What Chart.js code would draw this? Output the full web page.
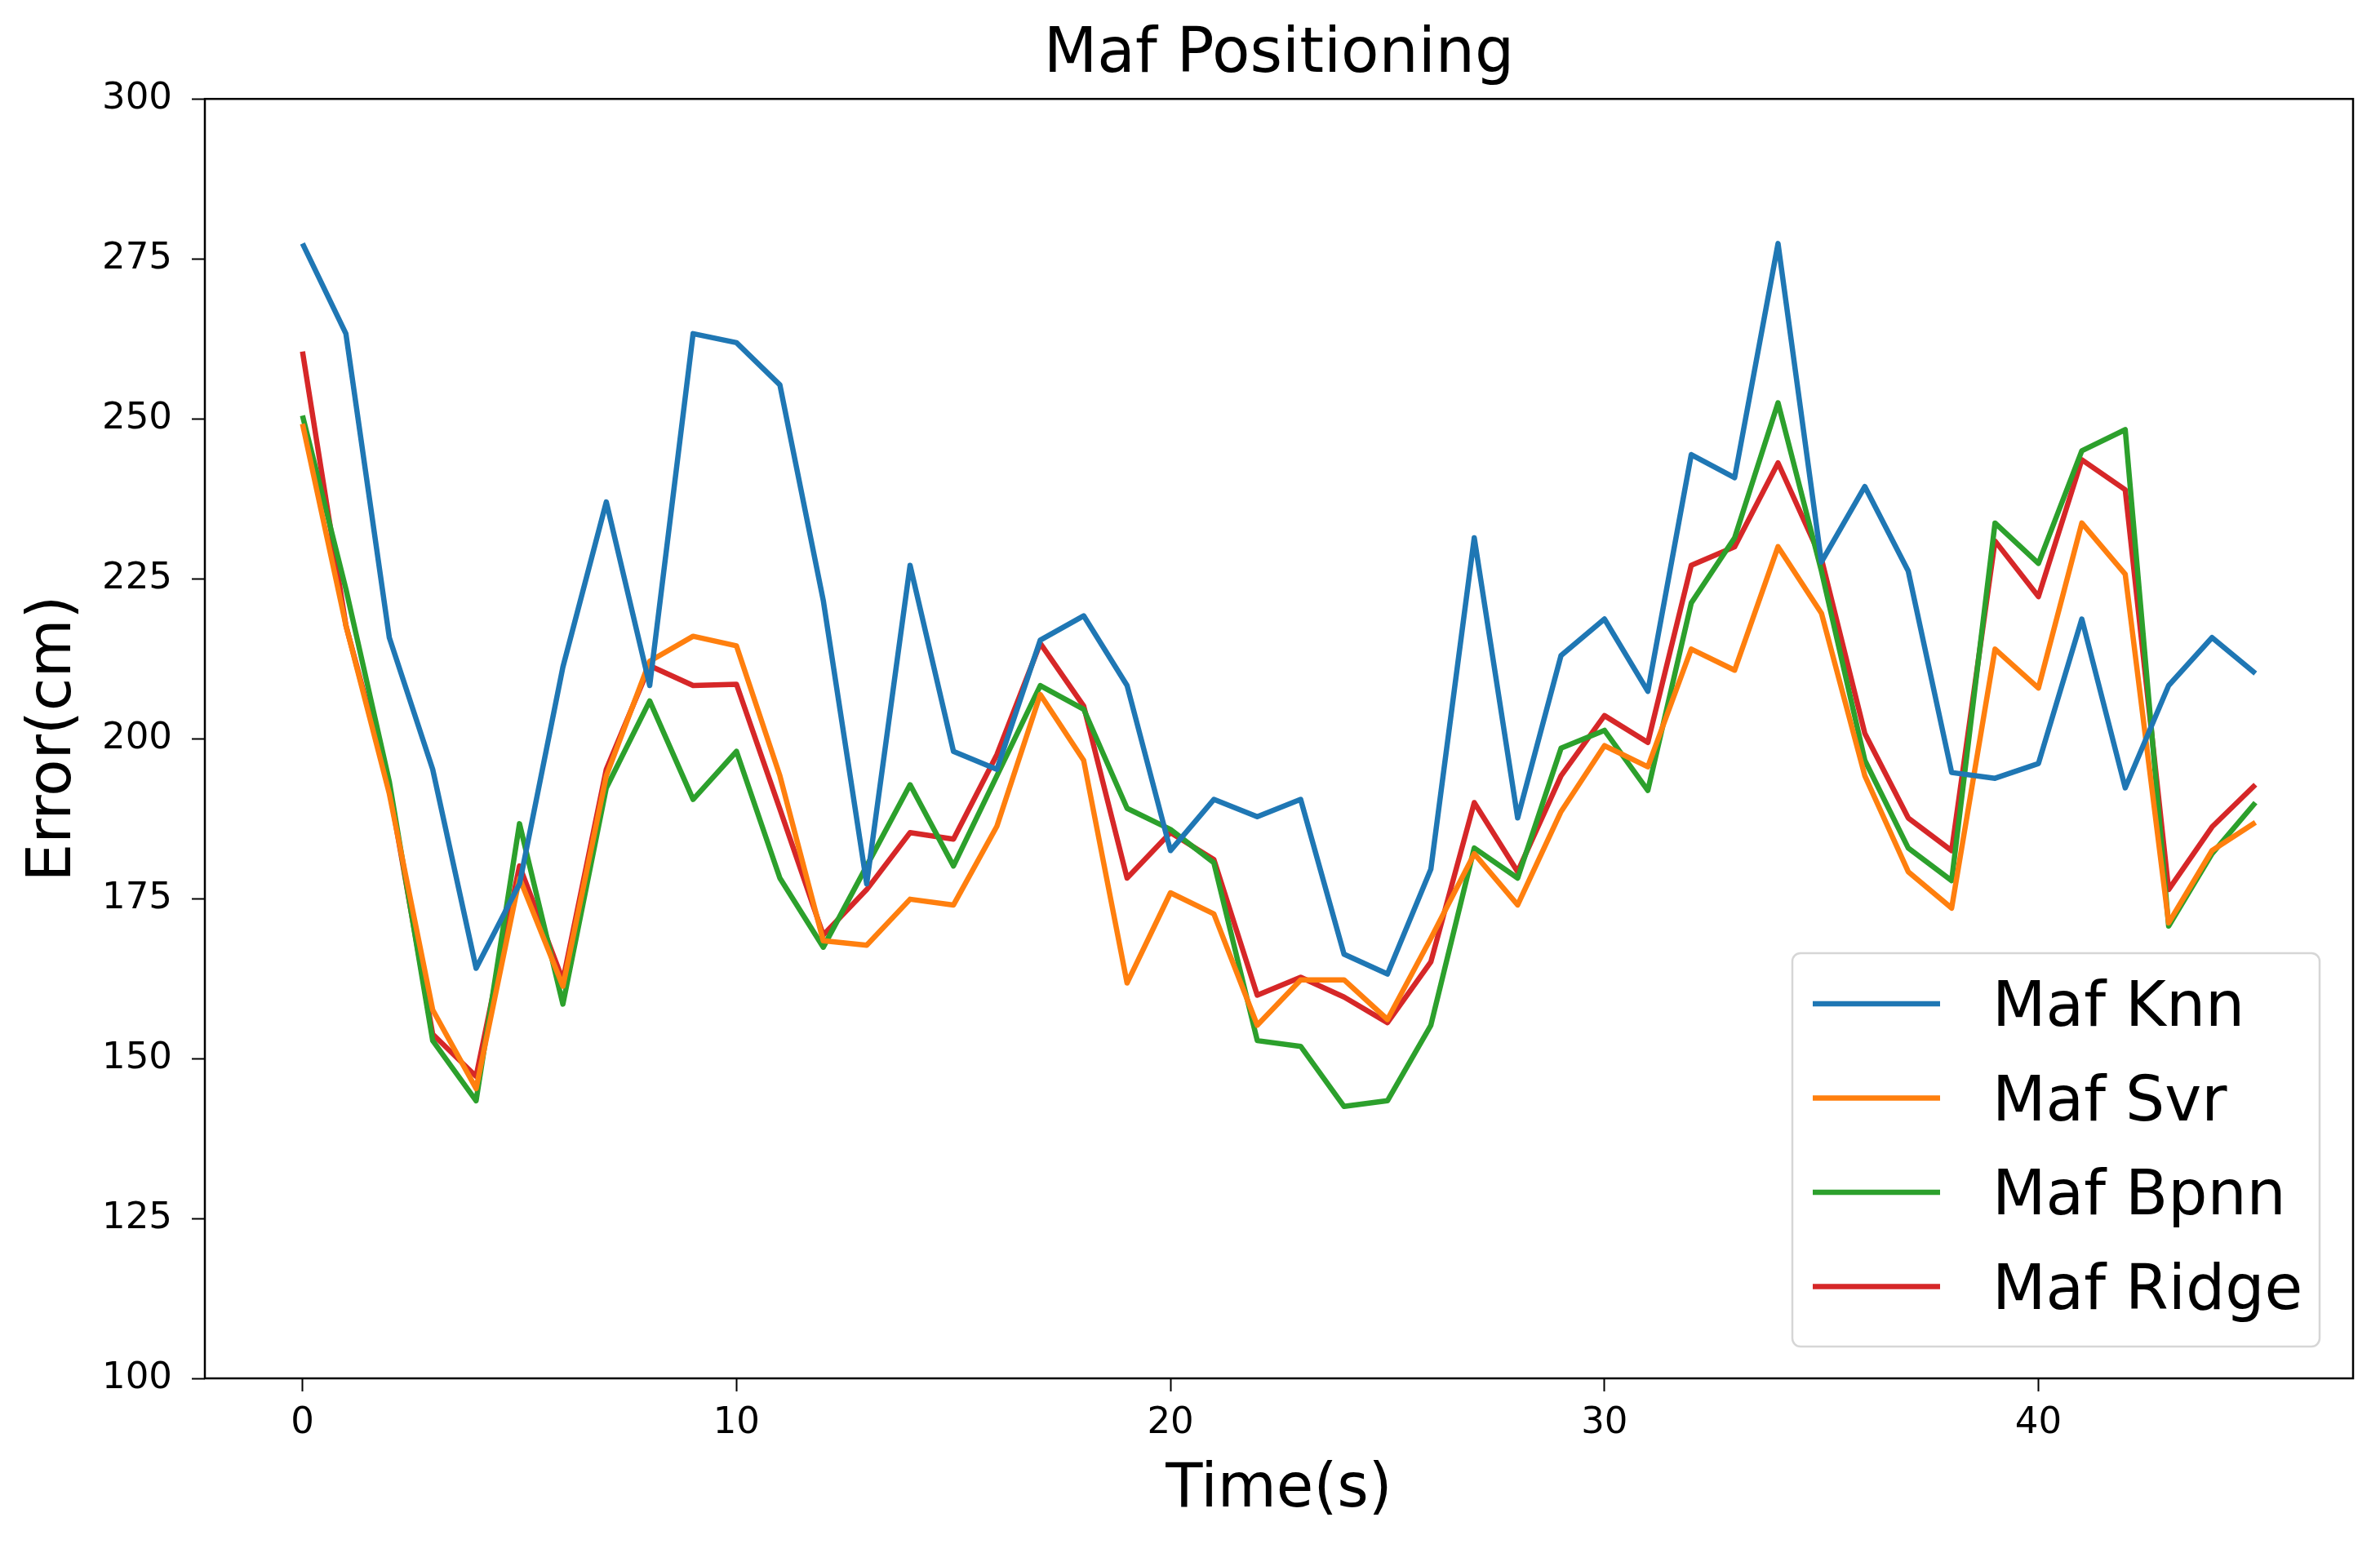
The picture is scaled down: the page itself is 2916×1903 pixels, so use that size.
<!DOCTYPE html>
<html>
<head>
<meta charset="utf-8">
<title>Maf Positioning</title>
<script src="https://cdn.jsdelivr.net/npm/chart.js@4.4.1/dist/chart.umd.min.js"></script>
<style>
    html, body { margin: 0; padding: 0; background: #fff; overflow: hidden; }
    #chart { display: block; }
</style>
</head>
<body>
<canvas id="chart" width="2916" height="1903"></canvas>
<script>
// 时间轴 (s)
const times = [0, 1, 2, 3, 4, 5, 6, 7, 8, 9, 10, 11, 12, 13, 14, 15, 16, 17, 18, 19, 20, 21, 22,
    23, 24, 25, 26, 27, 28, 29, 30, 31, 32, 33, 34, 35, 36, 37, 38, 39, 40, 41, 42, 43, 44, 45];

// 各算法定位误差 (cm)
const mafKnn = [277.4, 263.3, 215.8, 195.2, 164.1, 177.3, 211.2, 237.0, 208.3, 263.3, 261.9, 255.3,
    221.6, 177.3, 227.1, 198.0, 195.2, 215.4, 219.2, 208.3, 182.5, 190.5, 187.8, 190.5, 166.3, 163.2,
    179.6, 231.4, 187.6, 213.0, 218.7, 207.4, 244.4, 240.8, 277.4, 227.6, 239.4, 226.2, 194.7, 193.8,
    196.1, 218.7, 192.3, 208.3, 215.8, 210.2];
const mafSvr = [249.2, 217.7, 191.4, 157.6, 145.3, 178.2, 161.3, 194.2, 212.1, 216.0, 214.5, 194.2,
    168.4, 167.7, 174.9, 174.0, 186.3, 206.9, 196.6, 161.8, 175.9, 172.6, 155.2, 162.3, 162.3, 156.1,
    168.8, 182.0, 174.0, 188.6, 198.9, 195.6, 214.0, 210.7, 230.0, 219.6, 194.2, 179.2, 173.5, 214.0,
    207.9, 233.7, 225.7, 171.2, 182.5, 186.9];
const mafBpnn = [250.5, 223.4, 193.3, 152.8, 143.4, 186.7, 158.5, 192.3, 205.9, 190.5, 198.0, 178.2,
    167.4, 180.1, 192.8, 180.1, 194.2, 208.3, 204.6, 189.1, 185.8, 180.6, 152.8, 151.9, 142.5, 143.4,
    155.2, 182.9, 178.2, 198.5, 201.3, 191.9, 221.2, 231.4, 252.5, 226.2, 196.6, 182.9, 177.8, 233.7,
    227.4, 245.0, 248.3, 170.7, 182.0, 190.0];
const mafRidge = [260.5, 217.7, 192.3, 153.8, 147.2, 180.1, 162.2, 195.2, 211.4, 208.3, 208.5, 189.0,
    169.3, 176.4, 185.3, 184.3, 197.5, 214.9, 205.1, 178.2, 185.3, 181.1, 159.9, 162.7, 159.6, 155.6,
    165.1, 190.0, 179.2, 194.2, 203.6, 199.4, 227.1, 230.0, 243.1, 228.1, 200.8, 187.6, 182.5, 230.9,
    222.2, 243.6, 238.9, 176.4, 186.2, 192.8];

const seriesNames = ['Maf Knn', 'Maf Svr', 'Maf Bpnn', 'Maf Ridge'];

// 刻度
const xTicks = [0, 10, 20, 30, 40];
const yTicks = [100, 125, 150, 175, 200, 225, 250, 275, 300];

const colors = ['#1f77b4', '#ff7f0e', '#2ca02c', '#d62728'];
const FONT = '"DejaVu Sans", "Liberation Sans", sans-serif';
const LINE_W = 6.5;

function toPoints(values) {
    return values.map((v, i) => ({ x: times[i], y: v }));
}

// 外框 (matplotlib 风格的四边框)
const framePlugin = {
    id: 'frame',
    afterDatasetsDraw(chart) {
        const { ctx, chartArea: a } = chart;
        ctx.save();
        ctx.strokeStyle = '#000';
        ctx.lineWidth = 2.5;
        ctx.strokeRect(a.left, a.top, a.right - a.left, a.bottom - a.top);
        ctx.restore();
    }
};

// 右下角图例
const legendPlugin = {
    id: 'cornerLegend',
    afterDraw(chart) {
        const { ctx, chartArea: a } = chart;
        const w = 646, h = 482;
        const x = a.right - 41 - w;
        const y = a.bottom - 39 - h;
        ctx.save();
        ctx.beginPath();
        ctx.roundRect(x, y, w, h, 10);
        ctx.fillStyle = 'rgba(255,255,255,0.8)';
        ctx.fill();
        ctx.lineWidth = 2.5;
        ctx.strokeStyle = '#d6d6d6';
        ctx.stroke();

        ctx.font = '76px ' + FONT;
        ctx.textBaseline = 'alphabetic';
        chart.data.datasets.forEach((ds, i) => {
            const cy = y + 62 + i * 115.5;
            ctx.strokeStyle = ds.borderColor;
            ctx.lineWidth = LINE_W;
            ctx.beginPath();
            ctx.moveTo(x + 25, cy);
            ctx.lineTo(x + 181, cy);
            ctx.stroke();
            ctx.fillStyle = '#000';
            ctx.fillText(ds.label, x + 245, cy + 27);
        });
        ctx.restore();
    }
};

function renderChart() {
    const canvas = document.getElementById('chart');
    const series = [mafKnn, mafSvr, mafBpnn, mafRidge];

    new Chart(canvas.getContext('2d'), {
        type: 'line',
        data: {
            datasets: series.map((s, i) => ({
                label: seriesNames[i],
                data: toPoints(s),
                borderColor: colors[i],
                backgroundColor: colors[i],
                borderWidth: LINE_W,
                borderJoinStyle: 'round',
                pointRadius: 0,
                tension: 0,
                fill: false
            }))
        },
        options: {
            responsive: false,
            animation: false,
            layout: { padding: { left: 0, right: 33, top: 0, bottom: 0 } },
            plugins: {
                legend: { display: false },
                tooltip: { enabled: false },
                title: {
                    display: true,
                    fullSize: false,
                    text: 'Maf Positioning',
                    color: '#000',
                    font: { family: FONT, size: 76, weight: 'normal', lineHeight: 1.2 },
                    padding: { top: 23, bottom: 7 }
                }
            },
            scales: {
                x: {
                    type: 'linear',
                    min: -2.25,
                    max: 47.25,
                    afterBuildTicks: scale => { scale.ticks = xTicks.map(v => ({ value: v })); },
                    afterFit: scale => { scale.height = 214; },
                    border: { display: false },
                    grid: {
                        drawOnChartArea: false,
                        drawTicks: true,
                        tickLength: 16,
                        tickWidth: 2,
                        tickColor: '#000'
                    },
                    ticks: {
                        color: '#000',
                        font: { family: FONT, size: 45 },
                        padding: 12,
                        maxRotation: 0
                    },
                    title: {
                        display: true,
                        text: 'Time(s)',
                        color: '#000',
                        font: { family: FONT, size: 74, lineHeight: 1.2 },
                        padding: { top: 0, bottom: 32 }
                    }
                },
                y: {
                    min: 100,
                    max: 300,
                    afterBuildTicks: scale => { scale.ticks = yTicks.map(v => ({ value: v })); },
                    afterFit: scale => { scale.width = 251; },
                    border: { display: false },
                    grid: {
                        drawOnChartArea: false,
                        drawTicks: true,
                        tickLength: 16,
                        tickWidth: 2,
                        tickColor: '#000'
                    },
                    ticks: {
                        color: '#000',
                        font: { family: FONT, size: 45 },
                        padding: 24
                    },
                    title: {
                        display: true,
                        text: 'Error(cm)',
                        color: '#000',
                        font: { family: FONT, size: 74, lineHeight: 1.2 },
                        padding: { top: 22, bottom: 0 }
                    }
                }
            }
        },
        plugins: [framePlugin, legendPlugin]
    });
}

renderChart();
</script>
</body>
</html>
